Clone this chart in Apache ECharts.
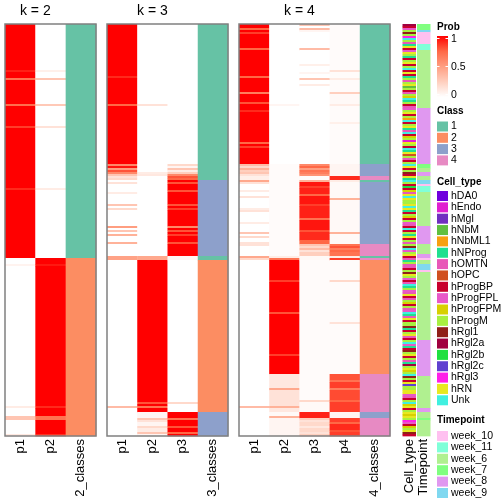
<!DOCTYPE html>
<html><head><meta charset="utf-8">
<script src="https://cdn.jsdelivr.net/npm/echarts@6/dist/echarts.min.js"></script>
<style>html,body{margin:0;padding:0;background:#fff}#c{width:504px;height:504px}</style>
</head><body><div id="c"></div>
<script>
// ---------------- DATA ----------------
const N = 206; // samples (rows)
const k2Labels = ['p1', 'p2', '2_classes'];
const k3Labels = ['p1', 'p2', 'p3', '3_classes'];
const k4Labels = ['p1', 'p2', 'p3', 'p4', '4_classes'];
const annLabels = ['Cell_type', 'Timepoint'];

// run-length lists: [count, value]
const k2P1 = [[23,1],[1,0.92],[3,1],[1,0.7],[12,1],[1,0.72],[10,1],[1,0.85],[30,1],[1,0.9],[34,1],
  [3,0],[1,0.06],[70,0],[1,0.1],[4,0],[2,0.3],[7,0],[1,0.12]];
const k2P2 = [[23,0],[1,0.08],[3,0],[1,0.3],[12,0],[1,0.28],[10,0],[1,0.15],[30,0],[1,0.1],[34,0],
  [3,1],[1,0.94],[70,1],[1,0.9],[4,1],[2,0.7],[7,1],[1,0.88]];
const k2Class = [[117,1],[89,2]];

const k3P1 = [[26,1],[1,0.9],[13,1],[1,0.75],[29,1],[1,0.6],[1,0.95],[1,0.5],[1,0.8],[1,0.6],[1,0.3],[1,0.15],[1,0.2],
  [1,0],[1,0.15],[4,0],[1,0.1],[5,0],[1,0.3],[1,0],[1,0.2],[8,0],[1,0.5],[1,0],[1,0.3],[1,0],[1,0.4],[3,0],[1,0.4],[6,0],
  [2,0.48],[73,0],[1,0.35],[2,0],[12,0]];
const k3P2 = [[40,0],[1,0.15],[29,0],[4,0],[1,0.1],[1,0.12],[2,0],
  [38,0],[2,0.45],[71,1],[1,0.8],[1,1],[1,0.7],[2,1],
  [3,0.05],[1,0.3],[1,0.15],[2,0.05],[1,0.2],[2,0.1],[1,0.3],[1,0.05]];
const k3P3 = [[70,0],[1,0.2],[1,0.05],[1,0.3],[1,0.1],[1,0.25],[1,0.6],[1,0.8],[1,0.75],
  [1,1],[1,0.8],[3,1],[1,0.8],[6,1],[1,0.8],[1,1],[1,0.85],[8,1],[1,0.6],[1,1],[1,0.8],[1,1],[1,0.85],[3,1],[1,0.8],[6,1],
  [2,0.05],[71,0],[1,0.2],[4,0],
  [3,1],[1,0.7],[3,1],[1,0.8],[2,1],[1,0.75],[1,1]];
const k3Class = [[78,1],[38,3],[2,1],[76,2],[12,3]];

const k4P1 = [[2,1],[1,0.75],[1,1],[1,0.85],[7,1],[1,0.75],[13,1],[1,0.75],[7,1],[1,0.65],[4,1],[1,0.8],[3,1],[1,0.9],[15,1],[1,0.75],[1,1],[1,0.85],[8,1],
  [1,0.35],[1,0.2],[1,0.4],[1,0.25],[1,0.3],[1,0.15],[2,0.08],[1,0.45],
  [1,0.15],[3,0],[1,0.1],[2,0],[1,0.15],[5,0],[1,0.1],[1,0.15],[5,0],[1,0.1],[4,0],[1,0.3],[1,0],[1,0.2],[2,0],[1,0.15],
  [1,0.15],[5,0],[1,0.45],[1,0.2],[57,0],[16,0],[1,0.35],[2,0],[3,0],[9,0]];
const k4P2 = [[40,0],[1,0.05],[29,0],[46,0.02],[1,0.1],[1,0.7],
  [10,1],[1,0.85],[15,1],[1,0.8],[20,1],[1,0.85],[9,1],
  [7,0.12],[1,0.45],[8,0.15],[1,0.4],[2,0.12],[2,0.03],[1,0.4],[9,0.05]];
const k4P3 = [[1,0.3],[1,0],[1,0.35],[1,0.05],[8,0],[1,0.35],[7,0],[1,0.08],[3,0],[1,0.05],[2,0],[1,0.3],[2,0],[1,0.1],[39,0],
  [1,0.6],[1,0.75],[1,0.5],[1,0.7],[1,0.65],[1,0.55],[2,0.02],[1,0.4],
  [2,0.95],[1,0.85],[3,0.92],[1,0.75],[4,0.95],[1,0.85],[6,0.92],[1,0.7],[5,0.95],[1,0.8],[4,0.9],[2,0.75],
  [1,0.3],[1,0.2],[1,0.35],[1,0.15],[2,0.25],[2,0.03],[57,0.02],[13,0.02],[1,0.2],[5,0.03],[3,0.92],
  [1,0.25],[1,0.15],[2,0.2],[1,0.12],[2,0.2],[1,0.15],[1,0.25]];
const k4P4 = [[23,0.02],[1,0.15],[3,0.02],[1,0.1],[6,0.02],[1,0.25],[5,0.03],[1,0.1],[8,0.02],[1,0.08],[20,0.02],
  [6,0.05],[2,0.9],[1,0.1],[8,0.03],[1,0.4],[16,0.03],[1,0.4],[5,0.03],
  [1,0.7],[1,0.8],[1,0.65],[1,0.75],[2,0.7],[1,0.1],[1,0.85],
  [10,0.02],[1,0.2],[20,0.02],[1,0.15],[25,0.02],
  [3,0.8],[1,0.7],[3,0.85],[1,0.65],[5,0.82],[1,0.75],[5,0.85],[3,0.05],
  [2,0.85],[1,0.75],[3,0.9],[1,0.8],[2,0.85]];
const k4Class = [[70,1],[6,3],[2,4],[1,1],[31,3],[6,4],[1,1],[1,4],[57,2],[19,4],[3,3],[9,4]];

const timepointRuns = [[3,'week_7'],[1,'week_9'],[6,'week_10'],[3,'week_11'],[29,'week_6'],[28,'week_8'],
  [2,'week_7'],[2,'week_6'],[2,'week_8'],[2,'week_6'],[2,'week_9'],[1,'week_10'],[3,'week_11'],
  [17,'week_6'],[9,'week_8'],[5,'week_6'],[2,'week_8'],[1,'week_10'],[2,'week_6'],[3,'week_9'],[1,'week_10'],
  [34,'week_6'],[18,'week_8'],[16,'week_6'],[2,'week_8'],[3,'week_6'],[1,'week_7'],[8,'week_6']];

// one letter per sample, a..s = cellTypes[0..18]
const cellTypeCodes =
  'nijlmlqslg' + 'frijrlfilr' + 'ilsiriflgl' + 'rdliglksfl' + 'igjlrilesi' +
  'lrfgsiklbr' + 'lisfrhlgil' + 'srilmirfsl' + 'ioikgrsrll' + 'rsrfilkilj' +
  'gisilfrilg' + 'lmsjlrigfl' + 'ggilmrljig' + 'sfljgriglk' + 'ilgjsfgril' +
  'lmfilrgils' + 'jfimlrilgf' + 'nlrklsmlir' + 'pllrrjgils' + 'krilrkrlqj' + 'iklrmi';

const classNames = ['1', '2', '3', '4'];
const cellTypes = ['hDA0','hEndo','hMgl','hNbM','hNbML1','hNProg','hOMTN','hOPC','hProgBP','hProgFPL',
  'hProgFPM','hProgM','hRgl1','hRgl2a','hRgl2b','hRgl2c','hRgl3','hRN','Unk'];
const timepoints = ['week_10','week_11','week_6','week_7','week_8','week_9'];
const probTicks = [1, 0.5, 0];

// ---------------- STYLE ----------------
const classColors = ['#66C2A5', '#FC8D62', '#8DA0CB', '#E78AC3'];
const cellColors = ['#7000DD','#E020D0','#7030C0','#60C040','#F8A010','#20E090','#E858B8','#D05020','#C8002C','#E858C8',
  '#D8D000','#A8F040','#902018','#A00040','#20E040','#6040D0','#FF20E8','#E8E820','#40F0E0'];
const timeColors = ['#FFC0F0','#80FFD8','#B0F090','#80FF80','#E098F0','#80D8F0'];
const probRamp = ['#FFFFFF', '#FFCFBE', '#FF9E81', '#FF6846', '#FF0000'];
const FONT = 'Liberation Sans, Arial, Helvetica, sans-serif';

const TOP = 24, H = 412;
const panels = [
  {left: 5, width: 91, labels: k2Labels, probs: [k2P1, k2P2], cls: k2Class, title: 'k = 2'},
  {left: 107, width: 121, labels: k3Labels, probs: [k3P1, k3P2, k3P3], cls: k3Class, title: 'k = 3'},
  {left: 239, width: 151, labels: k4Labels, probs: [k4P1, k4P2, k4P3, k4P4], cls: k4Class, title: 'k = 4'}
];
const ann = {left: 402, width: 29};

function runsToSegments(runs, col) {
  const out = []; let s = 0;
  runs.forEach(([c, v]) => { out.push([col, s, s + c, v]); s += c; });
  return out;
}

function rectItem(gap) {
  return function (params, api) {
    const col = api.value(0), s = api.value(1), e = api.value(2);
    const a = api.coord([col, s]), b = api.coord([col, e]);
    const bw = api.size([1, 0])[0];
    return {
      type: 'rect',
      shape: {x: a[0] - bw / 2 + gap / 2, y: a[1], width: bw - gap + (gap ? 0 : 0.4), height: b[1] - a[1] + 0.35},
      style: {fill: api.visual('color')}
    };
  };
}

const grids = [], xAxes = [], yAxes = [], series = [];
const probSeriesIdx = [];
const allGrids = panels.map(p => ({left: p.left, width: p.width, labels: p.labels})).concat([{left: ann.left, width: ann.width, labels: annLabels}]);
allGrids.forEach((g, i) => {
  grids.push({left: g.left, width: g.width, top: TOP, height: H, containLabel: false});
  xAxes.push({type: 'category', gridIndex: i, data: g.labels, position: 'bottom',
    axisLine: {show: false}, axisTick: {show: false}, splitLine: {show: false},
    axisLabel: {rotate: 90, interval: 0, margin: 3, fontSize: 13, color: '#000', fontFamily: FONT}});
  yAxes.push({type: 'value', gridIndex: i, min: 0, max: N, inverse: true, show: false, splitLine: {show: false}});
});

panels.forEach((p, i) => {
  const d = [];
  p.probs.forEach((runs, c) => d.push(...runsToSegments(runs, c)));
  probSeriesIdx.push(series.length);
  series.push({type: 'custom', xAxisIndex: i, yAxisIndex: i, renderItem: rectItem(0), data: d,
    encode: {x: 0, y: [1, 2]}, silent: true, animation: false});
  const cd = runsToSegments(p.cls, p.probs.length).map(v => ({value: v, itemStyle: {color: classColors[v[3] - 1]}}));
  series.push({type: 'custom', xAxisIndex: i, yAxisIndex: i, renderItem: rectItem(0), data: cd,
    encode: {x: 0, y: [1, 2]}, silent: true, animation: false});
});

// annotation columns
const ctData = [];
for (let r = 0; r < cellTypeCodes.length; r++) {
  const idx = cellTypeCodes.charCodeAt(r) - 97;
  ctData.push({value: [0, r, r + 1, idx], itemStyle: {color: cellColors[idx]}});
}
const tpData = [];
{ let s = 0; timepointRuns.forEach(([c, name]) => {
    const idx = timepoints.indexOf(name);
    tpData.push({value: [1, s, s + c, idx], itemStyle: {color: timeColors[idx]}}); s += c; }); }
series.push({type: 'custom', xAxisIndex: 3, yAxisIndex: 3, renderItem: rectItem(1), data: ctData.concat(tpData),
  encode: {x: 0, y: [1, 2]}, silent: true, animation: false});

// graphics: titles, borders, legends
const graphic = [];
panels.forEach(p => {
  const probW = p.width * p.probs.length / (p.probs.length + 1);
  graphic.push({type: 'text', x: p.left + probW / 2, y: 11, style: {text: p.title, fontSize: 14, fontFamily: FONT,
    fill: '#000', textAlign: 'center', textVerticalAlign: 'middle'}});
  graphic.push({type: 'rect', shape: {x: p.left, y: TOP, width: p.width, height: H}, z: 100,
    style: {fill: 'none', stroke: '#808080', lineWidth: 1.5}});
});
const LX = 437, TX = 451;
function title(t, y) {
  graphic.push({type: 'text', x: LX, y: y, style: {text: t, fontSize: 10, fontWeight: 'bold', fontFamily: FONT,
    fill: '#000', textVerticalAlign: 'middle'}});
}
function label(t, y) {
  graphic.push({type: 'text', x: TX, y: y, style: {text: t, fontSize: 10.5, fontFamily: FONT, fill: '#000', textVerticalAlign: 'middle'}});
}
// Prob
title('Prob', 27);
const gTop = 36, gH = 61;
graphic.push({type: 'rect', shape: {x: LX, y: gTop, width: 11, height: gH},
  style: {fill: new echarts.graphic.LinearGradient(0, 0, 0, 1, probRamp.slice().reverse().map((c, i) => ({offset: i / 4, color: c})))}});
probTicks.forEach(v => {
  const y = gTop + 2.5 + (1 - v) * (gH - 5);
  graphic.push({type: 'line', shape: {x1: LX, y1: y, x2: LX + 2.5, y2: y}, style: {stroke: '#fff', lineWidth: 1}});
  graphic.push({type: 'line', shape: {x1: LX + 8.5, y1: y, x2: LX + 11, y2: y}, style: {stroke: '#fff', lineWidth: 1}});
  label(String(v), y + 0.5);
});
function legendBlock(name, names, colors, titleY, firstY, pitch) {
  title(name, titleY);
  names.forEach((n, i) => {
    const y = firstY + i * pitch;
    graphic.push({type: 'rect', shape: {x: LX, y: y - 5, width: 11, height: 10}, style: {fill: colors[i]}});
    label(n, y);
  });
}
legendBlock('Class', classNames, classColors, 111, 126.5, 11.3);
legendBlock('Cell_type', cellTypes, cellColors, 182, 196, 11.35);
legendBlock('Timepoint', timepoints, timeColors, 420.5, 436, 11.4);

const chart = echarts.init(document.getElementById('c'), null, {renderer: 'canvas'});
chart.setOption({
  animation: false,
  backgroundColor: '#fff',
  grid: grids, xAxis: xAxes, yAxis: yAxes,
  visualMap: [{type: 'continuous', show: false, min: 0, max: 1, dimension: 3, seriesIndex: probSeriesIdx,
    inRange: {color: probRamp}}],
  series: series,
  graphic: graphic
});
</script></body></html>
